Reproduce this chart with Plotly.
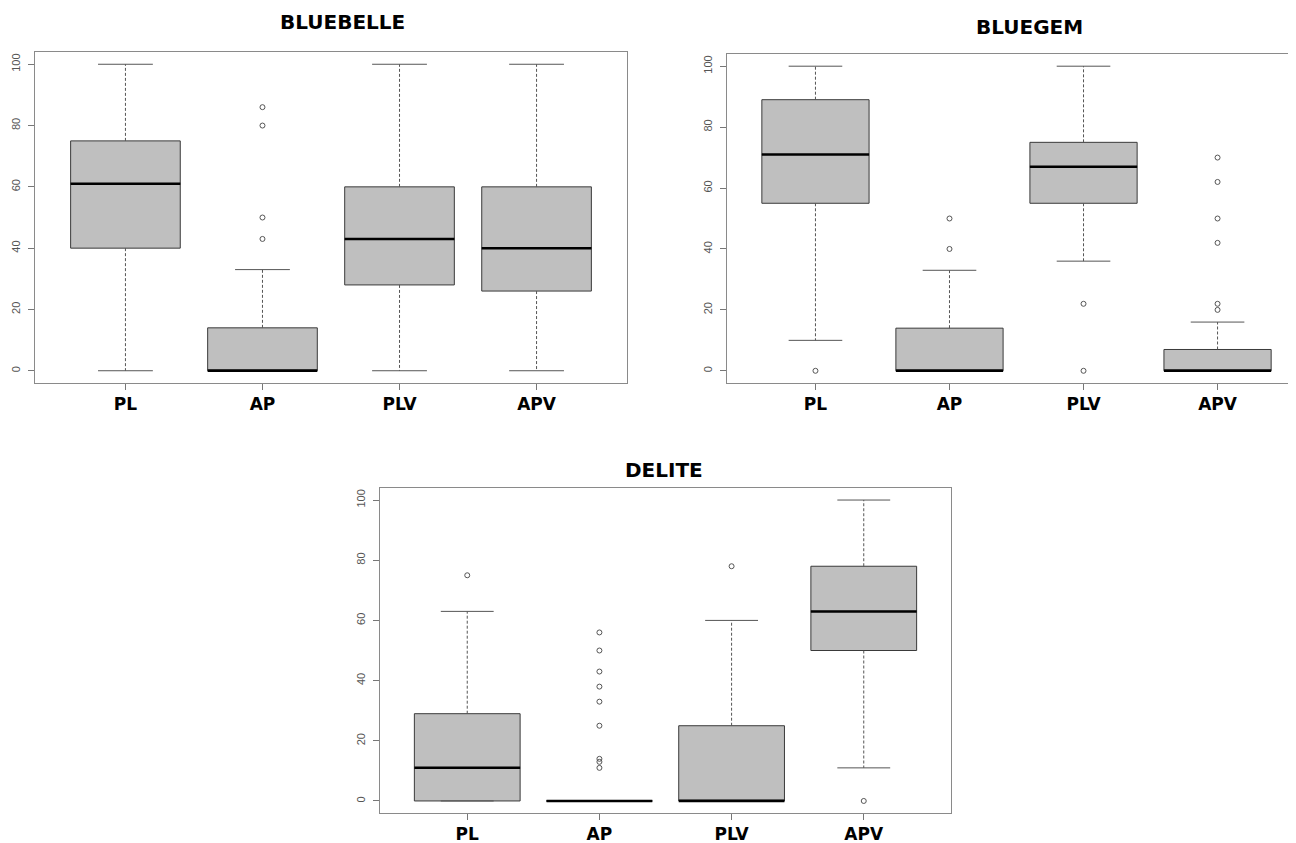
import plotly.graph_objects as go

categories = ["PL", "AP", "PLV", "APV"]
positions = [1, 2, 3, 4]
titles = ["BLUEBELLE", "BLUEGEM", "DELITE"]
y_ticks = [0, 20, 40, 60, 80, 100]

bluebelle_q1 = [40, 0, 28, 26]
bluebelle_median = [61, 0, 43, 40]
bluebelle_q3 = [75, 14, 60, 60]
bluebelle_lower = [0, 0, 0, 0]
bluebelle_upper = [100, 33, 100, 100]
bluebelle_outliers = [[], [43, 50, 80, 86], [], []]

bluegem_q1 = [55, 0, 55, 0]
bluegem_median = [71, 0, 67, 0]
bluegem_q3 = [89, 14, 75, 7]
bluegem_lower = [10, 0, 36, 0]
bluegem_upper = [100, 33, 100, 16]
bluegem_outliers = [[0], [40, 50], [0, 22], [20, 22, 42, 50, 62, 70]]

delite_q1 = [0, 0, 0, 50]
delite_median = [11, 0, 0, 63]
delite_q3 = [29, 0, 25, 78]
delite_lower = [0, 0, 0, 11]
delite_upper = [63, 0, 60, 100]
delite_outliers = [[75], [11, 13, 14, 25, 33, 38, 43, 50, 56], [78], [0]]

panels = [
    (bluebelle_q1, bluebelle_median, bluebelle_q3, bluebelle_lower, bluebelle_upper, bluebelle_outliers),
    (bluegem_q1, bluegem_median, bluegem_q3, bluegem_lower, bluegem_upper, bluegem_outliers),
    (delite_q1, delite_median, delite_q3, delite_lower, delite_upper, delite_outliers),
]

W, H = 1296, 843
OFF = 8  # page body margin
# plot regions in window pixels: (left, right, top, bottom)
regions = [(35, 627, 52, 383), (727, 1304, 54, 383), (380, 951, 488, 813)]
x_ranges = [[0.34, 4.66], [0.34, 4.645], [0.34, 4.66]]
title_pos = [(342, 22), (1029, 27), (664, 470)]

BOXW = 0.8
CAPW = 0.4

fig = go.Figure()
for i, (q1, med, q3, lo, up, outl) in enumerate(panels):
    sfx = "" if i == 0 else str(i + 1)
    xa, ya = "x" + sfx, "y" + sfx

    # whiskers (dashed)
    wx, wy = [], []
    for p, a, b, c, d in zip(positions, q3, up, q1, lo):
        wx += [p, p, None, p, p, None]
        wy += [a, b, None, c, d, None]
    fig.add_trace(go.Scatter(x=wx, y=wy, mode="lines", xaxis=xa, yaxis=ya,
                             line=dict(color="#555555", width=1, dash="3px,2px"),
                             showlegend=False, hoverinfo="skip"))
    # staples
    sx, sy = [], []
    for p, b, d in zip(positions, up, lo):
        sx += [p - CAPW / 2, p + CAPW / 2, None, p - CAPW / 2, p + CAPW / 2, None]
        sy += [b, b, None, d, d, None]
    fig.add_trace(go.Scatter(x=sx, y=sy, mode="lines", xaxis=xa, yaxis=ya,
                             line=dict(color="#555555", width=1),
                             showlegend=False, hoverinfo="skip"))
    # boxes
    fig.add_trace(go.Box(x=positions, q1=q1, median=med, q3=q3,
                         lowerfence=q1, upperfence=q3, width=BOXW,
                         fillcolor="#bfbfbf", line=dict(color="#3a3a3a", width=1),
                         boxpoints=False, xaxis=xa, yaxis=ya, showlegend=False,
                         whiskerwidth=0))
    # medians (thick)
    mx, my = [], []
    for p, m in zip(positions, med):
        mx += [p - BOXW / 2, p + BOXW / 2, None]
        my += [m, m, None]
    fig.add_trace(go.Scatter(x=mx, y=my, mode="lines", xaxis=xa, yaxis=ya,
                             line=dict(color="#000000", width=2.5),
                             showlegend=False, hoverinfo="skip"))
    # outliers
    ox, oy = [], []
    for p, vals in zip(positions, outl):
        for v in vals:
            ox.append(p)
            oy.append(v)
    fig.add_trace(go.Scatter(x=ox, y=oy, mode="markers", xaxis=xa, yaxis=ya,
                             marker=dict(symbol="circle-open", size=5,
                                         color="#555555", line=dict(width=1)),
                             showlegend=False, hoverinfo="skip"))

    l, r, t, b = [v - OFF for v in regions[i]]
    fig.layout["xaxis" + sfx] = dict(
        domain=[l / W, min(r / W, 1.0)], range=x_ranges[i], anchor=ya,
        tickvals=positions, ticktext=categories, ticks="outside", ticklen=6,
        tickcolor="#777777", showline=True, linecolor="#8a8a8a", linewidth=1,
        mirror=True, showgrid=False, zeroline=False,
        tickfont=dict(family="DejaVu Sans", size=17, color="#000000", weight="bold"),
    )
    fig.layout["yaxis" + sfx] = dict(
        domain=[1 - b / H, 1 - t / H], range=[-4, 104], anchor=xa,
        tickvals=y_ticks, ticks="outside", ticklen=6, tickangle=-90,
        tickcolor="#777777", showline=True, linecolor="#8a8a8a", linewidth=1,
        mirror=(i != 1), showgrid=False, zeroline=False, ticklabelstandoff=4,
        tickfont=dict(family="Liberation Sans", size=11, color="#555555"),
    )
    tx, ty = title_pos[i]
    fig.add_annotation(text=titles[i], x=(tx - OFF) / W, y=1 - (ty - OFF) / H,
                       xref="paper", yref="paper",
                       showarrow=False, xanchor="center", yanchor="middle",
                       font=dict(family="DejaVu Sans", size=20, color="#000000", weight="bold"))

fig.update_layout(width=W, height=H, margin=dict(l=0, r=0, t=0, b=0),
                  paper_bgcolor="white", plot_bgcolor="white")
fig.write_html("out.html")
